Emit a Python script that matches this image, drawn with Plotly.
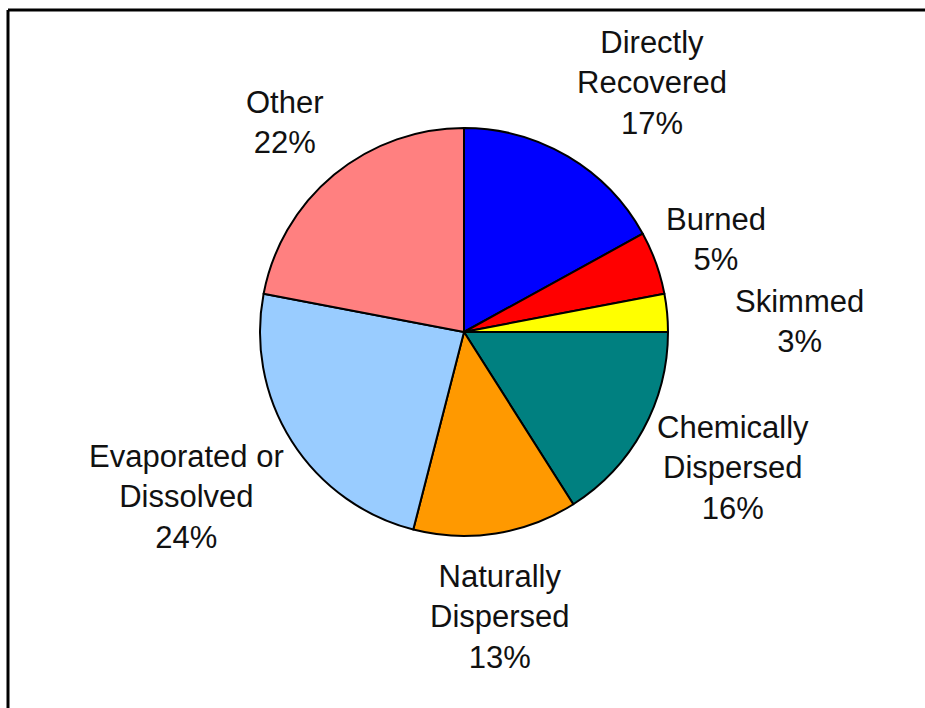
import plotly.graph_objects as go

categories = ["Directly Recovered", "Burned", "Skimmed", "Chemically Dispersed",
              "Naturally Dispersed", "Evaporated or Dissolved", "Other"]
values = [17, 5, 3, 16, 13, 24, 22]
label_lines = ["Directly<br>Recovered", "Burned", "Skimmed", "Chemically<br>Dispersed",
               "Naturally<br>Dispersed", "Evaporated or<br>Dissolved", "Other"]
colors = ["#0000FF", "#FF0000", "#FFFF00", "#008080", "#FF9900", "#99CCFF", "#FF8080"]

# label centre positions in pixels (layout only)
label_pos = [(652, 83), (716, 239), (799, 321), (733, 468), (500, 617), (186, 497), (285, 123)]

W, H = 925, 708
fig = go.Figure(go.Pie(
    labels=categories, values=values, sort=False, direction="clockwise", rotation=0,
    marker=dict(colors=colors, line=dict(color="black", width=2)),
    textinfo="none", hoverinfo="label+percent", showlegend=False,
    domain=dict(x=[260 / W, 668 / W], y=[1 - 536 / H, 1 - 128 / H]),
))

total = sum(values)
for lab, v, (px, py) in zip(label_lines, values, label_pos):
    fig.add_annotation(
        x=px / W, y=1 - py / H, xref="paper", yref="paper",
        text=f"{lab}<br>{round(100 * v / total)}%", showarrow=False,
        xanchor="center", yanchor="middle", align="center",
        font=dict(family="Liberation Sans, Arial", size=31, color="#111111"),
    )

# frame lines (top and left)
fig.add_shape(type="line", xref="paper", yref="paper", x0=8 / W, x1=1, y0=1 - 10 / H, y1=1 - 10 / H,
              line=dict(color="black", width=3))
fig.add_shape(type="line", xref="paper", yref="paper", x0=8 / W, x1=8 / W, y0=0, y1=1 - 10 / H,
              line=dict(color="black", width=3))

fig.update_layout(width=W, height=H, margin=dict(l=0, r=0, t=0, b=0),
                  paper_bgcolor="white", plot_bgcolor="white")
fig.write_html("out.html", config={"displayModeBar": False},
               post_script="document.body.style.margin='0';document.body.style.overflow='hidden';")
